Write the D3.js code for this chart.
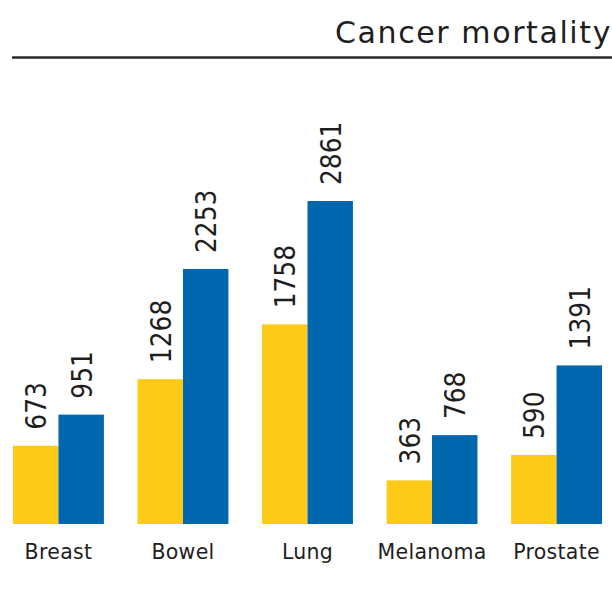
<!DOCTYPE html>
<html>
<head>
<meta charset="utf-8">
<script src="https://cdn.jsdelivr.net/npm/d3@7"></script>
<style>
  html, body { margin: 0; padding: 0; background: #fff; }
  svg { display: block; }
</style>
</head>
<body>
<svg id="chart" width="612" height="593"></svg>
<script>
// Cancer sites and the two compared series (deaths)
const categories = ["Breast", "Bowel", "Lung", "Melanoma", "Prostate"];
const seriesYellow = [673, 1268, 1758, 363, 590];
const seriesBlue = [951, 2253, 2861, 768, 1391];
const seriesNames = ["a", "b"];
const titleText = "Cancer mortality";

const colors = { a: "#FDCB17", b: "#0067AF" };
const font = "'DejaVu Sans', sans-serif";
const ink = "#1e1e1e";

const svg = d3.select("#chart");
const W = 612;
const baseline = 524;

// Title and rule
svg.append("text")
  .attr("x", 335).attr("y", 43)
  .attr("font-family", font).attr("font-size", 30)
  .attr("letter-spacing", 1.6)
  .attr("fill", ink)
  .text(titleText);
svg.append("line")
  .attr("x1", 12).attr("x2", W)
  .attr("y1", 57.5).attr("y2", 57.5)
  .attr("stroke", "#2a2a2a").attr("stroke-width", 2.5);

// Scales
const x0 = d3.scaleBand().domain(categories).range([13, 602]).paddingInner(0.27).paddingOuter(0);
const x1 = d3.scaleBand().domain(seriesNames).range([0, x0.bandwidth()]).padding(0);
const y = d3.scaleLinear().domain([0, 2861]).range([baseline - 3, 201]);

const rows = categories.map((c, i) => ({
  cat: c,
  vals: [{ key: "a", v: seriesYellow[i] }, { key: "b", v: seriesBlue[i] }]
}));

const groups = svg.selectAll("g.grp").data(rows).join("g")
  .attr("class", "grp")
  .attr("transform", d => `translate(${x0(d.cat)},0)`);

groups.selectAll("rect").data(d => d.vals).join("rect")
  .attr("x", d => x1(d.key))
  .attr("width", x1.bandwidth())
  .attr("y", d => y(d.v))
  .attr("height", d => baseline - y(d.v))
  .attr("fill", d => colors[d.key]);

// Value labels, rotated and slightly condensed
groups.selectAll("text.val").data(d => d.vals).join("text")
  .attr("class", "val")
  .attr("transform", d => `translate(${x1(d.key) + x1.bandwidth() / 2 + 10.5},${y(d.v) - 16}) rotate(-90) scale(0.86,1)`)
  .attr("font-family", font).attr("font-size", 29)
  .attr("fill", ink)
  .text(d => d.v);

// Category axis labels
const xAxis = d3.axisBottom(x0).tickSize(0).tickPadding(0);
const gx = svg.append("g").attr("transform", `translate(0,${baseline})`).call(xAxis);
gx.select(".domain").remove();
gx.selectAll("text")
  .attr("y", 35)
  .attr("dy", 0)
  .attr("font-family", font).attr("font-size", 20.5)
  .attr("letter-spacing", 0.3)
  .attr("fill", ink);
</script>
</body>
</html>
